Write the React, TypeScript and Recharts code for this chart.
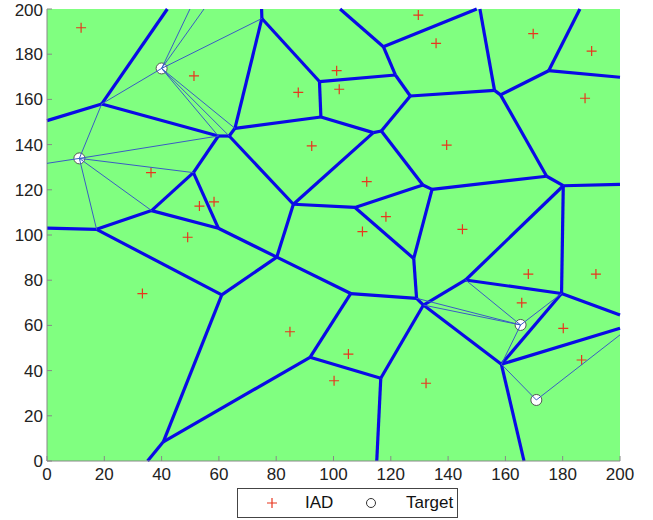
import {
  ScatterChart,
  Scatter,
  XAxis,
  YAxis,
  ReferenceArea,
  ReferenceLine,
} from "recharts";

const axisTicks = [0, 20, 40, 60, 80, 100, 120, 140, 160, 180, 200];

// IAD sensor positions
const iadX = [
  11.9, 51.3, 36.3, 53.2, 58.3, 49.1, 129.6, 101.1, 102, 87.7, 92.4, 111.6,
  118.3, 110.1, 135.8, 169.7, 190.1, 187.8, 139.5, 145, 33.3, 84.8, 168, 191.6,
  165.7, 180.2, 186.6, 105.2, 100.2, 132.3,
];
const iadY = [
  191.7, 170.4, 127.6, 112.8, 114.7, 99, 197.3, 172.7, 164.5, 163.1, 139.4,
  123.6, 108.1, 101.5, 184.8, 189.1, 181.4, 160.5, 139.8, 102.5, 74.1, 57.2,
  82.7, 82.7, 70, 58.7, 44.7, 47.3, 35.5, 34.4,
];

const targetX = [40, 11.3, 165.3, 170.8];
const targetY = [173.7, 133.9, 60.2, 27];

// voronoi cell edges: x1, y1, x2, y2
const cellEdges: number[][] = [
  [19.1, 158.0, 42, 200],
  [19.1, 158.0, 0, 150.6],
  [19.1, 158.0, 59.8, 143.8],
  [59.8, 143.8, 63.6, 143.8],
  [63.6, 143.8, 65.6, 147.2],
  [65.6, 147.2, 75.0, 195.8],
  [75.0, 195.8, 74.9, 200],
  [75.0, 195.8, 95.1, 167.9],
  [95.1, 167.9, 121.6, 170.8],
  [95.1, 167.9, 95.6, 152.2],
  [65.6, 147.2, 95.6, 152.2],
  [95.6, 152.2, 113.9, 145.3],
  [113.9, 145.3, 116.7, 146.0],
  [116.7, 146.0, 126.8, 161.5],
  [126.8, 161.5, 121.6, 170.8],
  [121.6, 170.8, 117.4, 183.3],
  [117.4, 183.3, 102.3, 200],
  [117.4, 183.3, 150, 200],
  [126.8, 161.5, 156.2, 164.0],
  [156.2, 164.0, 151.1, 200],
  [156.2, 164.0, 158.3, 162.0],
  [158.3, 162.0, 175.1, 172.7],
  [175.1, 172.7, 186, 200],
  [175.1, 172.7, 200, 169.8],
  [158.3, 162.0, 174.4, 126.0],
  [174.4, 126.0, 180.2, 121.8],
  [180.2, 121.8, 200, 122.4],
  [180.2, 121.8, 179.6, 74.1],
  [174.4, 126.0, 134.4, 120.2],
  [134.4, 120.2, 131.2, 122.1],
  [131.2, 122.1, 116.7, 146.0],
  [113.9, 145.3, 86.0, 113.6],
  [86.0, 113.6, 63.6, 143.8],
  [86.0, 113.6, 107.5, 112.2],
  [107.5, 112.2, 131.2, 122.1],
  [86.0, 113.6, 80.2, 90.2],
  [107.5, 112.2, 128.0, 89.6],
  [134.4, 120.2, 128.0, 89.6],
  [128.0, 89.6, 129.0, 72.0],
  [129.0, 72.0, 106.0, 74.1],
  [129.0, 72.0, 131.4, 69.0],
  [131.4, 69.0, 146.1, 80.1],
  [131.4, 69.0, 158.6, 42.8],
  [146.1, 80.1, 180.2, 121.8],
  [146.1, 80.1, 179.6, 74.1],
  [158.6, 42.8, 179.6, 74.1],
  [158.6, 42.8, 166.5, 0],
  [158.6, 42.8, 200, 58.7],
  [179.6, 74.1, 200, 64.6],
  [116.5, 36.6, 115.1, 0],
  [116.5, 36.6, 131.4, 69.0],
  [116.5, 36.6, 91.8, 45.9],
  [91.8, 45.9, 106.0, 74.1],
  [91.8, 45.9, 40.6, 8.5],
  [40.6, 8.5, 35.1, 0],
  [40.6, 8.5, 61.0, 73.5],
  [61.0, 73.5, 80.2, 90.2],
  [61.0, 73.5, 17.3, 102.5],
  [80.2, 90.2, 106.0, 74.1],
  [80.2, 90.2, 59.8, 103.0],
  [59.8, 103.0, 51.1, 127.6],
  [51.1, 127.6, 59.8, 143.8],
  [51.1, 127.6, 36.5, 110.8],
  [36.5, 110.8, 17.3, 102.5],
  [36.5, 110.8, 59.8, 103.0],
  [17.3, 102.5, 0, 103],
];

// thin links from each target to cell vertices
const targetLinks: number[][] = [
  [40, 173.7, 75.0, 195.8],
  [40, 173.7, 49.9, 200],
  [40, 173.7, 54.8, 200],
  [40, 173.7, 19.1, 158.0],
  [40, 173.7, 59.8, 143.8],
  [40, 173.7, 63.6, 143.8],
  [40, 173.7, 65.6, 147.2],
  [11.3, 133.9, 19.1, 158.0],
  [11.3, 133.9, 0, 131.7],
  [11.3, 133.9, 59.8, 143.8],
  [11.3, 133.9, 51.1, 127.6],
  [11.3, 133.9, 36.5, 110.8],
  [11.3, 133.9, 17.3, 102.5],
  [165.3, 60.2, 146.1, 80.1],
  [165.3, 60.2, 129.0, 72.0],
  [165.3, 60.2, 131.4, 69.0],
  [165.3, 60.2, 179.6, 74.1],
  [165.3, 60.2, 158.6, 42.8],
  [170.8, 27, 158.6, 42.8],
  [170.8, 27, 200, 55.8],
];

const iadPoints = iadX.map((x, i) => ({ x, y: iadY[i] }));
const targetPoints = targetX.map((x, i) => ({ x, y: targetY[i] }));

const font = "'Liberation Sans', Arial, sans-serif";
const tickStyle = { fill: "#222", fontSize: 17, fontFamily: font };

function PlusMark(props: any) {
  const { cx, cy } = props;
  return (
    <path
      d={`M${cx - 5},${cy}H${cx + 5}M${cx},${cy - 5}V${cy + 5}`}
      stroke="#e8361e"
      strokeWidth={1.2}
    />
  );
}

function TargetMark(props: any) {
  const { cx, cy } = props;
  return <circle cx={cx} cy={cy} r={5.5} fill="#fff" stroke="#555" strokeWidth={1} />;
}

export default function App() {
  return (
    <div style={{ position: "relative", width: 653, height: 520, fontFamily: font }}>
      <style>{"body{margin:0}"}</style>
      <ScatterChart
        width={653}
        height={520}
        margin={{ top: 9, right: 33, left: 0, bottom: 0 }}
      >
        <XAxis
          type="number"
          dataKey="x"
          domain={[0, 200]}
          ticks={axisTicks}
          height={59}
          tickSize={-5}
          tickMargin={12}
          tick={tickStyle}
          stroke="#888"
          allowDataOverflow
        />
        <XAxis
          xAxisId="top"
          orientation="top"
          type="number"
          dataKey="x"
          domain={[0, 200]}
          ticks={axisTicks}
          height={0}
          tickSize={-5}
          tick={false}
          stroke="#999"
        />
        <YAxis
          type="number"
          dataKey="y"
          domain={[0, 200]}
          ticks={axisTicks}
          width={47}
          tickSize={-5}
          tickMargin={9}
          tick={tickStyle}
          stroke="#888"
          allowDataOverflow
        />
        <YAxis
          yAxisId="right"
          orientation="right"
          type="number"
          dataKey="y"
          domain={[0, 200]}
          ticks={axisTicks}
          width={0}
          tickSize={-5}
          tick={false}
          stroke="#999"
        />
        <ReferenceArea
          x1={0}
          x2={200}
          y1={0}
          y2={200}
          fill="#80ff80"
          fillOpacity={1}
          stroke="none"
        />
        {cellEdges.map((e, i) => (
          <ReferenceLine
            key={`edge-${i}`}
            segment={[
              { x: e[0], y: e[1] },
              { x: e[2], y: e[3] },
            ]}
            stroke="#0a0ae6"
            strokeWidth={3.2}
            ifOverflow="visible"
          />
        ))}
        <Scatter
          name="IAD"
          data={iadPoints}
          shape={PlusMark}
          isAnimationActive={false}
        />
        <Scatter
          name="Target"
          data={targetPoints}
          shape={TargetMark}
          isAnimationActive={false}
        />
        {targetLinks.map((e, i) => (
          <ReferenceLine
            key={`link-${i}`}
            segment={[
              { x: e[0], y: e[1] },
              { x: e[2], y: e[3] },
            ]}
            stroke="#3a5cc4"
            strokeWidth={1}
            ifOverflow="visible"
            zIndex={900}
          />
        ))}
      </ScatterChart>
      <div
        style={{
          position: "absolute",
          left: 237,
          top: 488,
          width: 221,
          height: 30,
          border: "1px solid #444",
          background: "#fff",
          boxSizing: "border-box",
          fontSize: 17,
          color: "#111",
        }}
      >
        <svg width={219} height={28} style={{ position: "absolute", left: 0, top: 0 }}>
          <path d="M29,14H39M34,9V19" stroke="#e8361e" strokeWidth={1.2} />
          <circle cx={133} cy={14} r={4.5} fill="#fff" stroke="#333" strokeWidth={1} />
        </svg>
        <span style={{ position: "absolute", left: 67, top: 4, lineHeight: "20px" }}>IAD</span>
        <span style={{ position: "absolute", left: 168, top: 4, lineHeight: "20px" }}>Target</span>
      </div>
    </div>
  );
}
